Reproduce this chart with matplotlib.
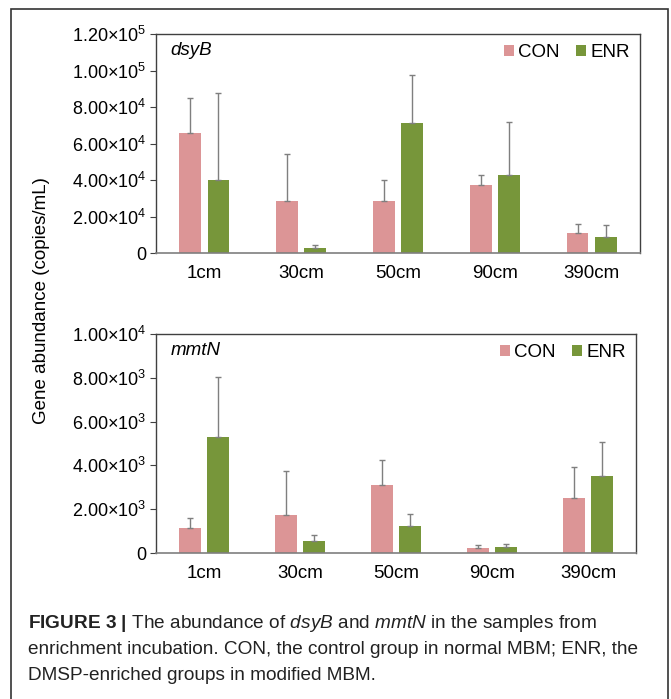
import numpy as np
import matplotlib
matplotlib.use('Agg')
import matplotlib.pyplot as plt
from matplotlib.patches import Rectangle

plt.rcParams['font.family'] = ['Liberation Sans', 'DejaVu Sans']
plt.rcParams['mathtext.fontset'] = 'custom'
plt.rcParams['mathtext.rm'] = 'Liberation Sans'
plt.rcParams['mathtext.it'] = 'Liberation Sans:italic'
plt.rcParams['mathtext.bf'] = 'Liberation Sans:bold'

depths = ['1cm', '30cm', '50cm', '90cm', '390cm']

## dsyB (copies/mL)
dsyb_con = [65600, 28300, 28500, 37300, 11100]
dsyb_con_err = [19500, 26100, 11700, 5400, 4800]
dsyb_enr = [40000, 2600, 71000, 42900, 8600]
dsyb_enr_err = [47700, 1900, 26700, 29000, 6600]

## mmtN (copies/mL)
mmtn_con = [1160, 1735, 3090, 230, 2530]
mmtn_con_err = [440, 1995, 1170, 120, 1380]
mmtn_enr = [5280, 530, 1220, 275, 3500]
mmtn_enr_err = [2770, 290, 545, 125, 1550]

dsyb_ticks = [0, 20000, 40000, 60000, 80000, 100000, 120000]
dsyb_ticklabels = ['0', r'2.00×10$^{4}$', r'4.00×10$^{4}$', r'6.00×10$^{4}$',
                   r'8.00×10$^{4}$', r'1.00×10$^{5}$', r'1.20×10$^{5}$']
mmtn_ticks = [0, 2000, 4000, 6000, 8000, 10000]
mmtn_ticklabels = ['0', r'2.00×10$^{3}$', r'4.00×10$^{3}$', r'6.00×10$^{3}$',
                   r'8.00×10$^{3}$', r'1.00×10$^{4}$']

con_color = '#dc9596'
enr_color = '#77963a'
err_color = '#7f7f7f'

W, H = 671, 699
fig = plt.figure(figsize=(W/100, H/100), dpi=100)

# outer frame
fig.patches.append(Rectangle((11/W, -0.01), (668-11)/W, 1 - 9/H + 0.01,
                             transform=fig.transFigure, fill=False,
                             edgecolor='#333333', linewidth=1.2))

def panel(rect, con, con_err, enr, enr_err, ticks, ticklabels, gene):
  ax = fig.add_axes(rect)
  x = np.arange(len(depths))
  off = 0.145
  wd = 0.225
  ax.bar(x - off, con, wd, color=con_color, label='CON', zorder=2)
  ax.bar(x + off, enr, wd, color=enr_color, label='ENR', zorder=2)
  ax.errorbar(x - off, con, yerr=[np.zeros(len(con)), con_err], fmt='none',
              ecolor=err_color, elinewidth=1, capsize=2.5, capthick=1, zorder=3)
  ax.errorbar(x + off, enr, yerr=[np.zeros(len(enr)), enr_err], fmt='none',
              ecolor=err_color, elinewidth=1, capsize=2.5, capthick=1, zorder=3)
  ax.set_xlim(-0.5, len(depths) - 0.5)
  ax.set_ylim(0, ticks[-1])
  ax.set_yticks(ticks)
  ax.set_yticklabels(ticklabels, fontsize=13)
  ax.set_xticks(x)
  ax.set_xticklabels(depths, fontsize=13.5)
  ax.tick_params(axis='x', length=0, pad=9)
  ax.tick_params(axis='y', length=4, width=0.8, pad=3, color='#404040')
  for s in ['top', 'right', 'left']:
    ax.spines[s].set_color('#404040')
    ax.spines[s].set_linewidth(1.0)
  ax.spines['bottom'].set_color('#7f7f7f')
  ax.spines['bottom'].set_linewidth(1.2)
  ax.text(0.03, 0.925, gene, transform=ax.transAxes, fontsize=13.5,
          style='italic', va='center', ha='left')
  ax.legend(loc='upper right', frameon=False, fontsize=13.5, handlelength=0.55,
            handleheight=0.55, handletextpad=0.2, columnspacing=0.9, ncol=2,
            borderaxespad=0.15)
  return ax

panel([156/W, 1 - 253/H, (640-156)/W, (253-34)/H], dsyb_con, dsyb_con_err,
      dsyb_enr, dsyb_enr_err, dsyb_ticks, dsyb_ticklabels, 'dsyB')
panel([156/W, 1 - 553/H, (636-156)/W, (553-334)/H], mmtn_con, mmtn_con_err,
      mmtn_enr, mmtn_enr_err, mmtn_ticks, mmtn_ticklabels, 'mmtN')

fig.text(42/W, 1 - 301/H, 'Gene abundance (copies/mL)', rotation=90,
         fontsize=13.5, ha='center', va='center')

# caption
cap_x = 28/W
fig.text(cap_x, 1 - 624/H,
         r'$\bf{FIGURE\ 3\ |}$ The abundance of $\it{dsyB}$ and $\it{mmtN}$ in the samples from',
         fontsize=13.7, va='center', color='#222222')
fig.text(cap_x, 1 - 650/H,
         'enrichment incubation. CON, the control group in normal MBM; ENR, the',
         fontsize=13.7, va='center', color='#222222')
fig.text(cap_x, 1 - 676/H, 'DMSP-enriched groups in modified MBM.',
         fontsize=13.7, va='center', color='#222222')

fig.savefig('out.png', dpi=100)
plt.close()
